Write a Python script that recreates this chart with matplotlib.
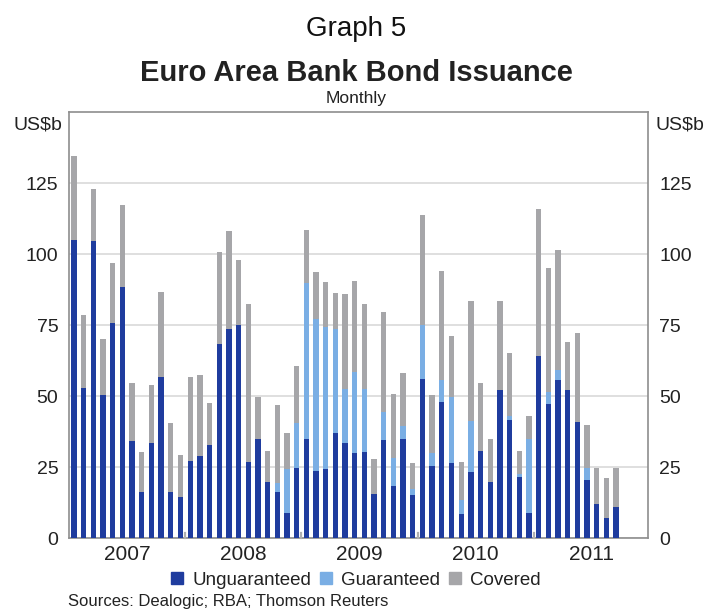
import matplotlib
matplotlib.use("Agg")
import matplotlib.pyplot as plt
import numpy as np
import pandas as pd
from matplotlib.patches import Patch

plt.rcParams['font.family'] = ['Liberation Sans', 'DejaVu Sans']

# Monthly categories: Jan 2007 - Sep 2011
months = pd.date_range("2007-01-01", "2011-09-01", freq="MS")

unguaranteed = [105, 53, 104.5, 50.3, 75.9, 88.3, 34.2, 16.2, 33.7, 56.6, 16.2, 14.4,
                27.3, 28.9, 32.8, 68.2, 73.6, 75.2, 26.8, 34.9, 19.7, 16.2, 9.0, 24.6,
                35.1, 23.8, 24.3, 37.1, 33.6, 29.9, 30.2, 15.5, 34.6, 18.5, 35.1, 15.2,
                56.2, 25.4, 48.0, 26.4, 8.4, 23.4, 30.8, 19.9, 52.1, 41.6, 21.4, 9.0,
                64.1, 47.2, 55.7, 52.1, 41.0, 20.5, 12.0, 7.0, 11.1]
guaranteed = [0, 0, 0, 0, 0, 0, 0, 0, 0, 0, 0, 0,
              0, 0, 0, 0, 0, 0, 0, 0, 0, 3.1, 15.3, 16.1,
              54.8, 53.5, 50.1, 36.5, 18.8, 28.7, 22.5, 0, 9.9, 9.6, 4.4, 2.1,
              19.0, 4.7, 7.7, 23.2, 5.1, 17.8, 0, 0, 0, 1.4, 1.1, 25.8,
              0, 4.4, 3.5, 0, 0, 4.3, 0, 0, 0]
covered = [29.6, 25.5, 18.3, 19.9, 21.0, 29.1, 20.5, 14.1, 20.1, 30.0, 24.5, 15.0,
           29.3, 28.7, 14.9, 32.6, 34.5, 22.8, 55.7, 14.9, 11.1, 27.6, 12.8, 20.1,
           18.5, 16.4, 15.8, 12.8, 33.4, 32.0, 29.7, 12.4, 35.2, 22.5, 18.5, 9.1,
           38.4, 20.3, 38.4, 21.5, 13.4, 42.2, 24.0, 15.2, 31.3, 22.3, 8.2, 8.3,
           51.7, 43.5, 42.4, 16.8, 31.3, 15.0, 12.6, 14.3, 13.7]
years = ["2007", "2008", "2009", "2010", "2011"]
yticks = [0, 25, 50, 75, 100, 125]

c_ung = "#1F3C9E"
c_gua = "#7AAEE4"
c_cov = "#A6A6A9"
grid_c = "#D9D9D9"
spine_c = "#8E8E8E"
text_c = "#222222"

fig = plt.figure(figsize=(7.12, 6.09), dpi=100)
ax = fig.add_axes([0.0976, 0.1161, 0.8125, 0.700])

x = np.arange(len(months))
ung = np.array(unguaranteed)
gua = np.array(guaranteed)
cov = np.array(covered)
w = 0.55
ax.bar(x, ung, width=w, color=c_ung, zorder=3, linewidth=0)
ax.bar(x, gua, width=w, bottom=ung, color=c_gua, zorder=3, linewidth=0)
ax.bar(x, cov, width=w, bottom=ung + gua, color=c_cov, zorder=3, linewidth=0)

ax.set_xlim(-0.47, 59.3)
ax.set_ylim(0, 150)
ax.set_yticks(yticks)
ax.yaxis.grid(True, color=grid_c, linewidth=1.2, zorder=0)
ax.set_axisbelow(True)
ax.tick_params(axis='y', length=0, pad=8, labelsize=14, colors=text_c,
               labelright=True, right=False)
for s in ax.spines.values():
    s.set_color(spine_c)
    s.set_linewidth(1.2)

# year labels at centre of each year, small ticks at year boundaries
year_pos = [12 * i + 5.5 for i in range(len(years))]
ax.set_xticks(year_pos)
ax.set_xticklabels(years, fontsize=15, color=text_c)
ax.tick_params(axis='x', length=0, pad=5)
for i in range(1, len(years)):
    ax.plot([12 * i - 0.5] * 2, [0, 2.0], color="#B0B0B0", lw=1.6, zorder=4,
            clip_on=False)

fig.text(0.5, 0.953, "Graph 5", ha='center', va='center', fontsize=20, color="#111111")
fig.text(0.5, 0.880, "Euro Area Bank Bond Issuance", ha='center', va='center',
         fontsize=21, fontweight='bold', color="#222222")
fig.text(0.5, 0.838, "Monthly", ha='center', va='center', fontsize=12.5, color=text_c)
fig.text(0.088, 0.795, "US$b", ha='right', va='center', fontsize=14, color=text_c)
fig.text(0.920, 0.795, "US$b", ha='left', va='center', fontsize=14, color=text_c)

handles = [Patch(color=c_ung), Patch(color=c_gua), Patch(color=c_cov)]
fig.legend(handles, ["Unguaranteed", "Guaranteed", "Covered"], loc='center',
           bbox_to_anchor=(0.5, 0.047), ncol=3, frameon=False, fontsize=13.5,
           handlelength=0.6, handleheight=0.6, handletextpad=0.5, columnspacing=0.5,
           labelcolor=text_c)
fig.text(0.095, 0.012, "Sources: Dealogic; RBA; Thomson Reuters", ha='left',
         va='center', fontsize=12, color=text_c)

fig.savefig("out.png", dpi=100)
